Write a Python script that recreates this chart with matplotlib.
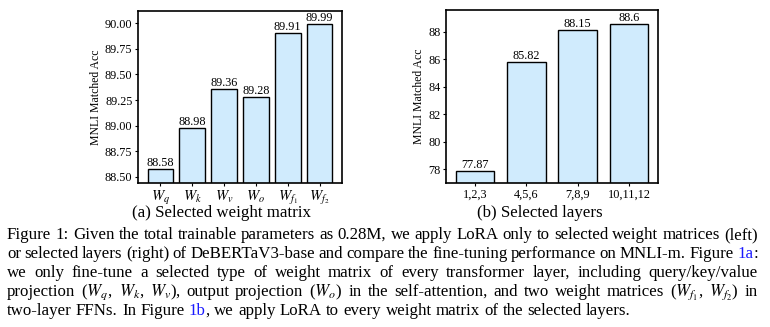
import numpy as np
import matplotlib
matplotlib.use('Agg')
from matplotlib import pyplot as plt

plt.rcParams['font.family'] = ['Liberation Serif', 'DejaVu Serif']
plt.rcParams['mathtext.fontset'] = 'stix'

# data
weight_labels = [r'$W_q$', r'$W_k$', r'$W_v$', r'$W_o$', r'$W_{f_1}$', r'$W_{f_2}$']
weight_acc = [88.58, 88.98, 89.36, 89.28, 89.91, 89.99]
layer_labels = ['1,2,3', '4,5,6', '7,8,9', '10,11,12']
layer_acc = [77.87, 85.82, 88.15, 88.6]

bar_color = '#d0ebfd'
W, H = 770, 327
fig = plt.figure(figsize=(W / 100, H / 100), dpi=100)


def px_axes(x0, y0, x1, y1):
    return fig.add_axes([x0 / W, 1 - y1 / H, (x1 - x0) / W, (y1 - y0) / H])


def bar_panel(ax, labels, values, width, pad, ylim, yticks, yfmt, xsize):
    x = np.arange(len(values))
    ax.bar(x, values, width=width, color=bar_color, edgecolor='black', linewidth=1.0)
    for xi, v in zip(x, values):
        ax.text(xi, v, f'{v:g}', ha='center', va='bottom', fontsize=8.8)
    ax.set_xlim(-pad, len(values) - 1 + pad)
    ax.set_ylim(*ylim)
    ax.set_yticks(yticks)
    ax.set_yticklabels([yfmt.format(t) for t in yticks])
    ax.set_xticks(x)
    ax.set_xticklabels(labels)
    ax.tick_params(labelsize=8.8, length=2.5, width=0.8, pad=1.5)
    ax.tick_params(axis='x', labelsize=xsize)
    ax.set_ylabel('MNLI Matched Acc', fontsize=8.5, labelpad=2)
    for s in ax.spines.values():
        s.set_linewidth(1.2)


ax1 = px_axes(138, 11, 342, 183)
bar_panel(ax1, weight_labels, weight_acc, 0.8, 0.7, (88.44, 90.12),
          [88.50, 88.75, 89.00, 89.25, 89.50, 89.75, 90.00], '{:.2f}', 10.5)

ax2 = px_axes(446, 10, 658, 183)
bar_panel(ax2, layer_labels, layer_acc, 0.75, 0.56, (77.0, 89.6),
          [78, 80, 82, 84, 86, 88], '{:d}', 8.8)

cap_size = 12.2
fig.text(222 / W, 1 - 217 / H, '(a) Selected weight matrix', ha='center', va='baseline', fontsize=cap_size)
fig.text(540 / W, 1 - 217 / H, '(b) Selected layers', ha='center', va='baseline', fontsize=cap_size)

blue = '#1a1aff'
caption = [
    ('Figure 1: Given the total trainable parameters as 0.28M, we apply LoRA only to selected weight matrices (left)', True),
    ('or selected layers (right) of DeBERTaV3-base and compare the fine-tuning performance on MNLI-m. Figure [1a]:', True),
    ('we only fine-tune a selected type of weight matrix of every transformer layer, including query/key/value', True),
    (r'projection ($W_q$, $W_k$, $W_v$), output projection ($W_o$) in the self-attention, and two weight matrices ($W_{f_1}$, $W_{f_2}$) in', True),
    ('two-layer FFNs. In Figure [1b], we apply LoRA to every weight matrix of the selected layers.', False),
]
baselines = [239, 258, 277, 296, 315]
x_left, x_right = 7, 758
min_gap = 3.6

fig.canvas.draw()
renderer = fig.canvas.get_renderer()


def split_word(word):
    # pieces in brackets are link coloured
    pieces = []
    rest = word
    while '[' in rest:
        a, b = rest.split('[', 1)
        inner, rest = b.split(']', 1)
        if a:
            pieces.append((a, 'black'))
        pieces.append((inner, blue))
    if rest:
        pieces.append((rest, 'black'))
    return pieces


t1 = fig.text(0, 0, 'a a', fontsize=cap_size)
t2 = fig.text(0, 0, 'aa', fontsize=cap_size)
space_w = t1.get_window_extent(renderer).width - t2.get_window_extent(renderer).width
t1.remove()
t2.remove()

for (line, just), yb in zip(caption, baselines):
    words = line.split(' ')
    placed = []
    for w in words:
        parts = []
        for s, c in split_word(w):
            t = fig.text(0, 1 - yb / H, s, color=c, fontsize=cap_size, va='baseline', ha='left')
            parts.append(t)
        placed.append(parts)

    def measure():
        return [[t.get_window_extent(renderer).width for t in parts] for parts in placed]

    pw = measure()
    widths = [sum(p) for p in pw]
    if just:
        gap = (x_right - x_left - sum(widths)) / (len(words) - 1)
        if gap < min_gap:
            # squeeze this line a little so that words keep a visible space
            size = cap_size * (x_right - x_left - min_gap * (len(words) - 1)) / sum(widths)
            for parts in placed:
                for t in parts:
                    t.set_fontsize(size)
            pw = measure()
            widths = [sum(p) for p in pw]
            gap = (x_right - x_left - sum(widths)) / (len(words) - 1)
    else:
        gap = space_w
    x = x_left
    for parts, ws in zip(placed, pw):
        for t, w in zip(parts, ws):
            t.set_x(x / W)
            x += w
        x += gap

fig.savefig('out.png', dpi=100)
